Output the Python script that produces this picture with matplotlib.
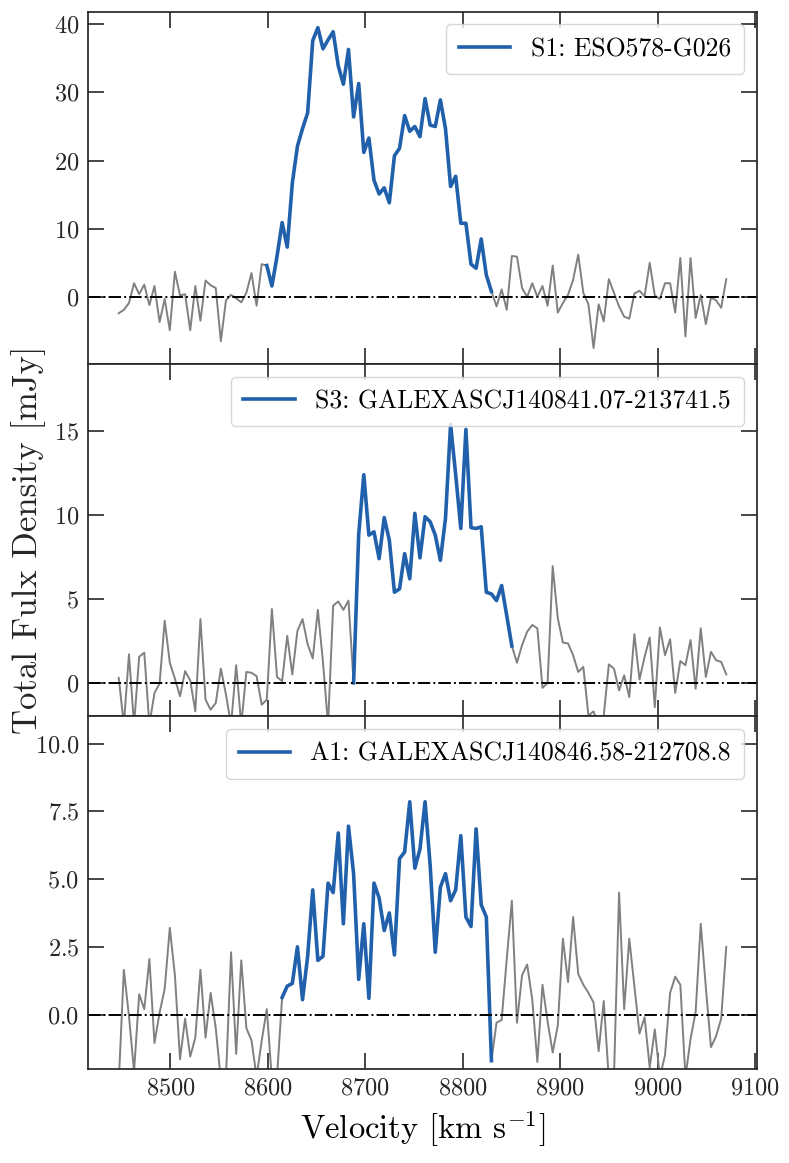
import matplotlib

matplotlib.use("Agg")
import matplotlib.pyplot as plt
import numpy as np

# channel grid (first channel and channel width, km/s)
v_start = 8447.0
chan_width = 5.24

s1_flux = [
    -2.4, -1.9, -0.9, 2.0, 0.4, 1.8, -1.2, 1.6, -3.7, -0.3,
    -4.9, 3.7, 0.2, 0.4, -4.9, 1.6, -3.5, 2.4, 1.7, 1.3,
    -6.5, -0.5, 0.3, -0.2, -0.8, 0.6, 3.5, -1.3, 4.8, 4.6,
    1.6, 5.95, 10.9, 7.3, 16.7, 22.1, 24.7, 27.0, 37.6, 39.5,
    36.4, 37.7, 38.9, 33.9, 31.2, 36.3, 26.4, 31.3, 21.2, 23.3,
    17.1, 15.1, 16.0, 13.8, 20.7, 21.8, 26.6, 24.3, 25.0, 23.5,
    29.1, 25.2, 25.0, 28.9, 24.7, 16.2, 17.7, 10.8, 10.8, 4.8,
    4.2, 8.5, 3.2, 0.8, -1.4, 1.1, -1.9, 6.0, 5.9, 1.3,
    0.0, 2.0, 0.0, 1.6, -1.3, 4.6, -2.3, -0.9, 0.3, 2.5,
    6.2, 0.6, -1.1, -7.5, -1.1, -3.6, 2.6, 0.6, -1.4, -2.9,
    -3.2, 0.5, 0.9, 0.1, 5.0, 0.2, -0.3, 2.0, 2.0, -2.3,
    5.7, -5.8, 5.7, -3.1, 0.3, -4.0, -0.1, -0.5, -1.6, 2.6,
]

s3_flux = [
    0.3, -2.5, 1.7, -2.5, 1.55, 1.8, -2.5, -0.6, -0.05, 3.7,
    1.2, 0.25, -0.8, 0.7, 0.15, -1.7, 3.8, -1.0, -1.6, -1.2,
    0.85, -0.7, -2.5, 1.05, -2.5, 0.65, 0.6, 0.4, -1.3, -1.0,
    4.4, 0.35, 0.1, 2.8, 0.5, 3.1, 3.8, 2.3, 1.45, 4.35,
    1.25, -2.5, 4.6, 4.85, 4.35, 4.9, 0.0, 8.85, 12.4, 8.8,
    9.0, 7.4, 9.85, 8.5, 5.4, 5.6, 7.7, 6.2, 10.1, 7.45,
    9.9, 9.6, 8.8, 7.3, 9.8, 15.4, 12.4, 9.2, 15.1, 9.25,
    9.2, 9.3, 5.4, 5.3, 4.9, 5.8, 4.0, 2.2, 1.2, 2.25,
    3.05, 3.45, 3.25, -0.3, 0.0, 6.95, 3.85, 2.4, 2.35, 1.65,
    0.65, 0.95, -1.95, -1.7, -2.5, -1.95, 1.1, 0.85, -0.45, 0.45,
    -0.85, 2.9, 0.2, 1.55, 2.7, -1.45, 3.3, 1.65, 2.6, -0.6,
    1.3, 1.05, 2.55, -0.35, 3.25, 0.35, 1.85, 1.35, 1.25, 0.5,
]

a1_flux = [
    -2.5, 1.65, -0.05, -2.1, 0.75, 0.2, 2.05, -1.05, 0.07, 0.95,
    3.2, 1.45, -1.65, -0.15, -1.55, -0.85, 1.65, -0.85, 0.8, -0.5,
    -2.4, -2.3, 2.3, -1.45, 2.0, -0.5, -0.95, -2.3, -0.97, 0.2,
    -2.4, -2.3, 0.63, 1.05, 1.15, 2.5, 0.55, 2.15, 4.6, 2.0,
    2.15, 4.85, 4.5, 6.7, 3.35, 6.95, 5.2, 1.3, 3.35, 0.6,
    4.85, 4.3, 3.1, 3.75, 2.2, 5.75, 6.0, 7.85, 5.4, 6.1,
    7.85, 5.5, 2.3, 4.7, 5.2, 4.2, 4.6, 6.6, 3.6, 3.25,
    6.85, 4.05, 3.6, -1.7, -0.3, -0.2, 2.05, 4.2, -0.3, 1.45,
    1.85, 0.55, -1.75, 1.1, -0.25, -1.4, -0.4, 2.8, 1.2, 3.6,
    1.5, 1.1, 0.8, 0.45, -1.35, 0.5, -2.4, -2.3, 4.5, 0.2,
    2.8, 1.05, -0.7, -0.1, -1.95, -0.55, -2.3, -1.5, 0.8, 1.4,
    1.1, -2.3, -0.9, 0.1, 3.35, 1.0, -1.2, -0.8, -0.15, 2.5,
]

labels = ["S1: ESO578-G026", "S3: GALEXASCJ140841.07-213741.5", "A1: GALEXASCJ140846.58-212708.8"]
# first and last channel of the emission window (blue part)
line_windows = [(29, 73), (46, 77), (32, 73)]
ylims = [None, (-2, 19), (-2, 11)]

BLUE = "#2160ab"

plt.rcParams.update({
    "font.family": "serif",
    "font.serif": ["cmr10"],
    "mathtext.fontset": "cm",
    "axes.unicode_minus": False,
    "axes.formatter.use_mathtext": True,
    "axes.edgecolor": "0.15",
    "axes.linewidth": 1.25,
    "xtick.color": "0.15",
    "ytick.color": "0.15",
})

fig, axes = plt.subplots(3, 1, figsize=(7.89, 11.63), dpi=100, sharex=True)
fig.subplots_adjust(left=0.112, right=0.959, top=0.99, bottom=0.081, hspace=0)

for ax, flux, label, (i0, i1), ylim in zip(axes, [s1_flux, s3_flux, a1_flux], labels, line_windows, ylims):
    flux = np.asarray(flux)
    vel = v_start + chan_width * np.arange(len(flux))
    ax.plot(vel, flux, color="gray", lw=1.4)
    ax.plot(vel[i0:i1 + 1], flux[i0:i1 + 1], color=BLUE, lw=2.6, label=label)
    ax.axhline(0, color="k", ls="-.", lw=1.4)
    if ylim is not None:
        ax.set_ylim(*ylim)
    ax.tick_params(direction="in", top=True, right=True, length=11.5, width=1.2,
                   labelsize=17.5, pad=6.5)
    ax.legend(loc="upper right", fontsize=18.5, handlelength=2.0, frameon=True,
              borderpad=0.5)

axes[0].set_yticks([0, 10, 20, 30, 40])
axes[1].set_yticks([0, 5, 10, 15])
axes[2].set_yticks([0.0, 2.5, 5.0, 7.5, 10.0])
axes[2].set_xticks([8500, 8600, 8700, 8800, 8900, 9000, 9100])

axes[2].set_xlabel(r"Velocity [km s$^{-1}$]", fontsize=23.5, labelpad=6)
fig.text(0.036, 0.5 * (0.99 + 0.081), "Total Fulx Density [mJy]", rotation=90,
         ha="center", va="center", fontsize=25, color="0.15")

fig.savefig("out.png", dpi=100)
